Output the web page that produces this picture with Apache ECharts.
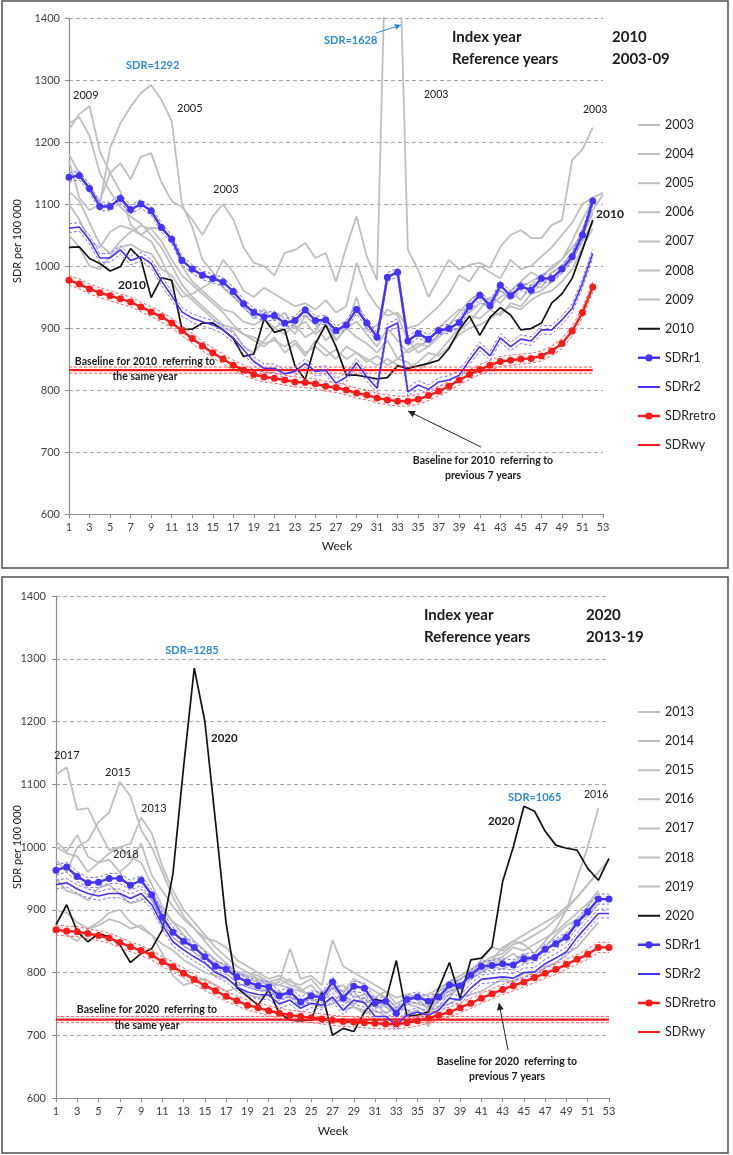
<!DOCTYPE html>
<html><head><meta charset="utf-8">
<script src="https://cdn.jsdelivr.net/npm/echarts@6/dist/echarts.min.js"></script>
<style>html,body{margin:0;padding:0;background:#fff}#c{width:733px;height:1155px}</style>
</head><body><div id="c"></div><script>
// ---------- DATA ----------
const weeks = ['1','2','3','4','5','6','7','8','9','10','11','12','13','14','15','16','17','18','19','20','21','22','23','24','25','26','27','28','29','30','31','32','33','34','35','36','37','38','39','40','41','42','43','44','45','46','47','48','49','50','51','52','53'];
const yTicks = [600,700,800,900,1000,1100,1200,1300,1400];

// Panel 1: index year 2010, reference years 2003-09
const topYears = ['2003','2004','2005','2006','2007','2008','2009'];
const g2003 = [1180,1150,1125,1105,1150,1166,1140,1176,1182,1135,1105,1095,1075,1050,1080,1100,1075,1030,1005,1000,985,1021,1026,1037,1013,1021,975,1030,1080,1015,977,1628,1620,1026,994,950,980,1010,994,1002,1005,997,1031,1050,1058,1045,1045,1066,1074,1171,1188,1223];
const g2004 = [1100,1075,1040,1030,1055,1065,1060,1050,1062,1060,1045,1000,975,960,945,930,925,910,905,915,900,910,890,920,905,880,895,900,910,890,870,900,880,860,870,880,900,915,930,925,940,935,950,960,945,970,965,990,1000,1020,1060,1090,1115];
const g2005 = [1170,1110,1090,1100,1190,1230,1257,1279,1292,1268,1234,1100,1063,1010,990,965,950,935,915,930,912,925,900,910,890,905,880,900,885,875,860,880,850,865,875,870,890,905,925,945,955,940,960,950,965,975,985,995,1010,1040,1075,1105];
const g2006 = [1120,1105,1070,1035,1020,1040,1055,1065,1060,1040,1010,985,970,955,940,925,905,890,880,870,885,860,875,855,880,865,850,870,860,845,855,840,850,845,830,845,860,880,900,920,915,930,920,940,935,955,960,975,990,1010,1040,1070];
const g2007 = [1050,1030,1000,995,1015,1030,1035,1025,1020,995,985,960,945,930,915,900,895,870,860,880,900,890,905,885,895,920,880,900,950,895,905,930,920,880,860,870,885,900,895,910,930,950,940,960,975,990,980,1000,1010,1030,1050,1085];
const g2008 = [1230,1240,1210,1150,1120,1095,1080,1068,1050,1030,1000,970,950,935,920,905,900,890,885,875,880,870,880,860,870,855,865,850,860,850,840,850,840,835,845,860,855,870,890,900,905,915,925,935,930,945,955,960,975,995,1030,1060];
const g2009 = [1220,1245,1258,1185,1150,1120,1067,1050,1040,1010,975,950,955,965,975,1010,990,960,950,965,955,945,935,940,930,945,925,935,1005,960,935,920,925,900,905,920,935,955,985,975,1000,990,980,1010,995,1000,1015,1030,1050,1070,1100,1110,1118];
const top2010 = [1030,1031,1012,1004,992,999,1028,1011,949,981,977,898,898,908,908,897,883,854,858,915,893,898,839,817,875,905,870,824,824,821,818,820,839,835,839,843,848,867,897,919,888,917,933,921,897,899,908,940,955,980,1026,1074];
const topR1 = [1143,1146,1125,1096,1096,1109,1091,1100,1089,1062,1043,1009,995,985,980,974,959,939,925,918,920,908,912,929,912,913,896,905,930,908,885,982,990,879,891,882,896,899,909,935,953,936,969,952,967,961,980,980,995,1015,1050,1105];
const topR2 = [1061,1063,1042,1013,1013,1026,1009,1015,1004,976,952,926,916,910,905,897,884,865,846,835,835,826,830,843,830,832,811,821,844,821,803,900,908,797,808,801,813,816,824,848,870,855,884,870,882,879,897,897,913,932,972,1020];
const topRetro = [977,971,963,957,952,947,942,934,926,918,908,896,883,871,860,850,840,832,825,821,819,816,813,812,810,806,804,800,795,792,787,784,782,782,785,791,798,806,816,825,833,840,846,848,850,851,855,863,875,895,925,966];
const topWy = 832;          // SDRwy level
const topWyWeeks = 52;
const topCI = {r1: 7, r2: 7, retro: 8, wy: 5};   // half-widths of the dashed limits

// Panel 2: index year 2020, reference years 2013-19
const botYears = ['2013','2014','2015','2016','2017','2018','2019'];
const g2013 = [1000,990,985,960,975,990,1000,1005,1047,1022,969,930,900,880,860,840,825,810,800,795,785,790,780,775,760,770,755,765,750,760,745,750,740,755,750,745,760,770,780,790,800,810,805,815,830,820,835,850,860,880,905,930];
const g2014 = [900,895,880,870,875,885,880,870,875,860,845,835,820,810,800,795,790,780,780,775,770,760,770,750,760,745,750,760,745,740,750,735,745,740,730,735,745,750,760,765,770,780,790,785,800,795,810,815,830,840,860,880];
const g2015 = [980,960,1000,1010,1040,1055,1104,1081,1027,1000,960,920,890,870,855,850,840,820,810,800,790,795,785,780,790,770,775,780,760,765,760,770,750,760,765,755,770,780,790,800,815,825,830,845,850,860,870,885,900,920,940,960,980];
const g2016 = [950,930,925,915,935,940,925,910,915,925,900,880,870,850,835,820,810,800,790,785,780,780,790,770,780,760,775,765,770,750,760,745,735,755,760,740,760,775,790,800,820,840,835,850,845,830,850,870,900,950,1000,1062];
const g2017 = [1115,1127,1059,1062,1027,995,1000,985,975,940,905,880,860,840,825,815,805,800,795,790,780,785,838,790,795,780,852,810,800,790,780,770,760,765,760,765,775,785,795,805,815,820,840,850,860,870,880,890,905,920,940,960];
const g2018 = [1009,993,1019,985,975,980,960,975,1006,955,930,905,885,870,850,830,815,800,800,790,785,780,775,770,765,760,775,770,790,780,770,760,745,750,745,735,755,765,780,795,805,820,825,840,835,845,855,865,880,895,910,930];
const g2019 = [875,860,850,870,880,895,900,880,870,860,830,795,780,785,790,780,770,775,765,760,765,770,760,755,750,745,760,740,745,735,740,730,720,735,740,714,745,760,780,790,800,815,820,830,815,825,840,860,875,885,890,910];
const bot2020 = [876,908,865,849,862,857,844,816,830,838,868,958,1128,1285,1200,1040,878,776,762,748,772,735,724,723,725,769,700,711,706,737,757,754,819,730,732,737,775,816,759,820,823,841,945,1000,1065,1057,1025,1003,998,995,966,947,982];
const botR1 = [963,968,953,943,944,950,950,939,947,924,888,864,850,840,825,810,805,793,785,779,777,763,769,753,763,760,785,759,778,775,751,754,735,757,761,754,761,780,779,796,810,811,814,812,822,824,837,846,856,879,897,917,917];
const botR2 = [940,943,933,926,922,926,926,918,926,908,876,849,836,825,815,800,792,777,769,765,764,750,756,743,751,748,761,740,756,752,730,730,716,732,737,732,740,759,756,775,789,791,793,791,800,801,814,823,833,856,875,894,894];
const botRetro = [868,866,865,862,859,855,848,841,835,828,817,809,799,789,779,771,762,755,748,744,739,735,732,730,728,726,724,722,721,720,719,718,718,720,723,727,732,737,744,751,759,766,773,779,785,792,799,805,813,821,829,840,840];
const botWy = 725;
const botWyWeeks = 53;
const botCI = {r1: 8, r2: 7, retro: 8, wy: 5};

// ---------- BUILD ----------
const FONT = 'Lato, "Open Sans", sans-serif';
const GREY = '#bfbfbf', BLUE = '#4433ff', BLUE_CI = '#7a6cff', RED = '#ff1a1a', RED_CI = '#ff5a5a', SKY = '#2e8ad6';
const ICON_LINE = 'path://M0,0h0.01v0.01H0z M21.99,13.99h0.01v0.01h-0.01z M0,6h22v2H0z';
const ICON_DOT = 'path://M0,0h0.01v0.01H0z M21.99,13.99h0.01v0.01h-0.01z M0,5.8h22v2.4H0z M14.6,7a3.6,3.6 0 1,1 -7.2,0a3.6,3.6 0 1,1 7.2,0z';
const series = [];
function addLine(name, data, p, color, width, extra) {
  series.push(Object.assign({
    type: 'line', name: name, data: data, xAxisIndex: p, yAxisIndex: p,
    symbol: 'none', silent: true, animation: false,
    lineStyle: {color: color, width: width}, itemStyle: {color: color}
  }, extra || {}));
}
function shift(arr, d) { return arr.map(v => v + d); }
function flat(v, n) { return Array.from({length: n}, () => v); }

function buildPanel(p, years, greys, idxName, idx, r1, r2, retro, wy, wyN, ci) {
  years.forEach((y, i) => addLine(y, greys[i], p, GREY, 1.8, {z: 2}));
  addLine(idxName, idx, p, '#111', 1.7, {z: 3});
  const dash = [3, 2];
  [[r1, ci.r1, BLUE_CI], [r2, ci.r2, BLUE_CI], [retro, ci.retro, RED_CI]].forEach(([d, h, c]) => {
    addLine('_ci', shift(d, h), p, c, 1, {z: 4, lineStyle: {color: c, width: 1, type: dash}});
    addLine('_ci', shift(d, -h), p, c, 1, {z: 4, lineStyle: {color: c, width: 1, type: dash}});
  });
  addLine('_ci', flat(wy + ci.wy, wyN), p, RED_CI, 1, {z: 4, lineStyle: {color: RED_CI, width: 1, type: dash}});
  addLine('_ci', flat(wy - ci.wy, wyN), p, RED_CI, 1, {z: 4, lineStyle: {color: RED_CI, width: 1, type: dash}});
  addLine('SDRwy', flat(wy, wyN), p, RED, 2.2, {z: 5});
  addLine('SDRretro', retro, p, RED, 2.4, {z: 6, symbol: 'circle', symbolSize: 7, showSymbol: true, showAllSymbol: true});
  addLine('SDRr2', r2, p, BLUE, 1.6, {z: 6});
  addLine('SDRr1', r1, p, BLUE, 2.4, {z: 7, symbol: 'circle', symbolSize: 7, showSymbol: true, showAllSymbol: true});
}
buildPanel(0, topYears, [g2003,g2004,g2005,g2006,g2007,g2008,g2009], '2010', top2010, topR1, topR2, topRetro, topWy, topWyWeeks, topCI);
buildPanel(1, botYears, [g2013,g2014,g2015,g2016,g2017,g2018,g2019], '2020', bot2020, botR1, botR2, botRetro, botWy, botWyWeeks, botCI);

function xAx(g) {
  return {type: 'category', gridIndex: g, data: weeks, boundaryGap: false,
    axisLine: {lineStyle: {color: '#8c8c8c', width: 1.2}},
    axisTick: {interval: 1, length: 4, lineStyle: {color: '#8c8c8c'}},
    axisLabel: {interval: 1, margin: 8, color: '#404040', fontFamily: FONT, fontSize: 11},
    splitLine: {show: false}};
}
function yAx(g, m) {
  return {type: 'value', gridIndex: g, min: yTicks[0], max: yTicks[yTicks.length - 1], interval: 100,
    axisLine: {show: true, lineStyle: {color: '#8c8c8c', width: 1.2}},
    axisTick: {show: true, length: 4, lineStyle: {color: '#8c8c8c'}},
    axisLabel: {margin: m, color: '#404040', fontFamily: FONT, fontSize: 11, formatter: v => String(v)},
    splitLine: {show: true, lineStyle: {color: '#a6a6a6', type: [4, 3], width: 1}}};
}
function leg(top, yrs, idx) {
  const items = yrs.concat([idx, 'SDRr1', 'SDRr2', 'SDRretro', 'SDRwy']).map(n => ({
    name: n, icon: (n === 'SDRr1' || n === 'SDRretro') ? ICON_DOT : ICON_LINE
  }));
  return {data: items, orient: 'vertical',
    left: 638, top: top, padding: 0, itemWidth: 22, itemHeight: 14, itemGap: 15.1, selectedMode: false,
    textStyle: {fontFamily: FONT, fontSize: 12.5, color: '#222'}};
}

function T(x, y, text, o) {
  o = o || {};
  return {type: 'text', x: x, y: y, rotation: o.rot || 0, z: 100, silent: true,
    style: {text: text, fill: o.color || '#1a1a1a',
      font: (o.bold ? 'bold ' : '') + (o.size || 11) + 'px ' + FONT,
      align: o.align || 'left', textAlign: o.align || 'left',
      verticalAlign: 'middle', textVerticalAlign: 'middle'}};
}
function arrow(x1, y1, x2, y2, p1, p2, c) {
  return [
    {type: 'line', z: 100, silent: true, shape: {x1: x1, y1: y1, x2: x2, y2: y2}, style: {stroke: c, lineWidth: 1}},
    {type: 'polygon', z: 100, silent: true, shape: {points: [[x2, y2], p1, p2]}, style: {fill: c}}
  ];
}
const graphic = [
  {type: 'rect', shape: {x: 2, y: 1, width: 726, height: 567}, style: {fill: 'none', stroke: '#4d4d4d', lineWidth: 1.5}, silent: true},
  {type: 'rect', shape: {x: 2, y: 577, width: 726, height: 576}, style: {fill: 'none', stroke: '#4d4d4d', lineWidth: 1.5}, silent: true},
  // top panel
  T(452, 37, 'Index year', {bold: true, size: 15}), T(612, 37, '2010', {bold: true, size: 15}),
  T(452, 59, 'Reference years', {bold: true, size: 15}), T(612, 59, '2003-09', {bold: true, size: 15}),
  T(126, 65, 'SDR=1292', {bold: true, color: SKY}), T(324, 40, 'SDR=1628', {bold: true, color: SKY}),
  T(73, 95, '2009'), T(177, 108, '2005'), T(213, 189, '2003'), T(424, 95, '2003', {size: 10.5}), T(583, 110, '2003', {size: 10.5}),
  T(596, 214, '2010', {bold: true, size: 12}), T(118, 285, '2010', {bold: true, size: 12}),
  T(145, 362, 'Baseline for 2010  referring to', {bold: true, size: 10.5, align: 'center'}),
  T(145, 377, 'the same year', {bold: true, size: 10.5, align: 'center'}),
  T(483, 461, 'Baseline for 2010  referring to', {bold: true, size: 10.5, align: 'center'}),
  T(483, 476, 'previous 7 years', {bold: true, size: 10.5, align: 'center'}),
  T(337, 546, 'Week', {size: 12, align: 'center'}),
  T(17, 241, 'SDR per 100 000', {size: 11, align: 'center', rot: Math.PI / 2}),
  // bottom panel
  T(424, 615, 'Index year', {bold: true, size: 15}), T(586, 615, '2020', {bold: true, size: 15}),
  T(424, 637, 'Reference years', {bold: true, size: 15}), T(586, 637, '2013-19', {bold: true, size: 15}),
  T(192, 650, 'SDR=1285', {bold: true, color: SKY, align: 'center'}),
  T(211, 738, '2020', {bold: true, size: 11.5}),
  T(54, 755, '2017'), T(105, 772, '2015'), T(141, 808, '2013'), T(113, 854, '2018'),
  T(508, 797, 'SDR=1065', {bold: true, color: SKY}),
  T(488, 821, '2020', {bold: true, size: 11.5}), T(584, 795, '2016', {size: 10.5}),
  T(147, 1010, 'Baseline for 2020  referring to', {bold: true, size: 10.5, align: 'center'}),
  T(147, 1026, 'the same year', {bold: true, size: 10.5, align: 'center'}),
  T(507, 1062, 'Baseline for 2020  referring to', {bold: true, size: 10.5, align: 'center'}),
  T(507, 1077, 'previous 7 years', {bold: true, size: 10.5, align: 'center'}),
  T(333, 1131, 'Week', {size: 12, align: 'center'}),
  T(17, 847, 'SDR per 100 000', {size: 11, align: 'center', rot: Math.PI / 2})
].concat(
  arrow(376, 33, 401, 25, [396.2, 29.7], [394.4, 23.9], SKY),
  arrow(481, 447, 408, 411, [415.8, 411.0], [412.7, 417.2], '#222'),
  arrow(508, 1050, 499, 1003, [503.8, 1009.2], [496.9, 1010.5], '#222')
);

const chart = echarts.init(document.getElementById('c'), null, {renderer: 'canvas'});
chart.setOption({
  animation: false,
  backgroundColor: '#fff',
  textStyle: {fontFamily: FONT},
  grid: [{left: 69, top: 18, width: 534, height: 496}, {left: 56, top: 596, width: 553, height: 502}],
  xAxis: [xAx(0), xAx(1)],
  yAxis: [yAx(0, 9), yAx(1, 10)],
  legend: [leg(118, topYears, '2010'), leg(705, botYears, '2020')],
  series: series,
  graphic: graphic
});
</script></body></html>
